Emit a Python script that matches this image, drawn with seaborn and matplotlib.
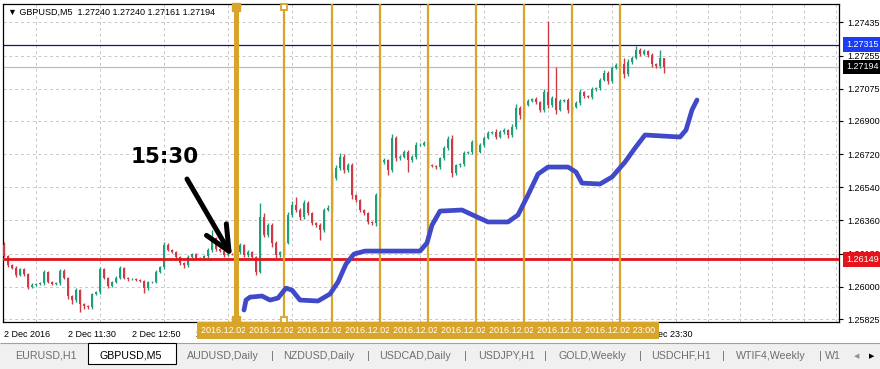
import matplotlib.pyplot as plt
import seaborn as sns
import numpy as np
import pandas as pd
from matplotlib.patches import Rectangle
from matplotlib.transforms import blended_transform_factory

sns.set_style('white')
plt.rcParams['font.family'] = ['Liberation Sans', 'DejaVu Sans']

# --- data ---
symbol = 'GBPUSD,M5'
last_bar = ['1.27240', '1.27240', '1.27161', '1.27194']   # O H L C
start_time = '10:10'        # first M5 bar on screen
first_open = 1.26227

closes = [1.26167, 1.26118, 1.26102, 1.26064, 1.26096, 1.26069, 1.25999, 1.26010, 1.26015, 1.26020,
          1.26080, 1.26026, 1.26015, 1.26020, 1.26086, 1.26048, 1.25950, 1.25928, 1.25982, 1.25906,
          1.25895, 1.25890, 1.25961, 1.25971, 1.26096, 1.26048, 1.26004, 1.26026, 1.26048, 1.26102,
          1.26048, 1.26042, 1.26043, 1.26037, 1.26031, 1.25993, 1.26026, 1.26027, 1.26080, 1.26107,
          1.26227, 1.26200, 1.26189, 1.26162, 1.26129, 1.26118, 1.26162, 1.26178, 1.26156, 1.26151,
          1.26167, 1.26200, 1.26265, 1.26205, 1.26194, 1.26172, 1.26178, 1.26177, 1.26189, 1.26227,
          1.26172, 1.26189, 1.26162, 1.26080, 1.26379, 1.26281, 1.26335, 1.26238, 1.26172, 1.26189,
          1.26238, 1.26390, 1.26444, 1.26417, 1.26379, 1.26455, 1.26400, 1.26346, 1.26335, 1.26308,
          1.26417, 1.26428, 1.26590, 1.26645, 1.26705, 1.26634, 1.26661, 1.26498, 1.26471, 1.26417,
          1.26400, 1.26352, 1.26346, 1.26498, 1.26677, 1.26688, 1.26634, 1.26808, 1.26699, 1.26705,
          1.26732, 1.26688, 1.26705, 1.26770, 1.26772, 1.26780, 1.26661, 1.26656, 1.26650, 1.26699,
          1.26753, 1.26802, 1.26618, 1.26661, 1.26666, 1.26726, 1.26732, 1.26786, 1.26732, 1.26770,
          1.26808, 1.26835, 1.26840, 1.26813, 1.26840, 1.26851, 1.26824, 1.26867, 1.26971, 1.26933,
          1.26987, 1.27009, 1.27019, 1.27003, 1.26960, 1.27057, 1.26987, 1.27025, 1.26960, 1.27009,
          1.27014, 1.26960, 1.26976, 1.26998, 1.27057, 1.27036, 1.27030, 1.27074, 1.27079, 1.27123,
          1.27161, 1.27117, 1.27188, 1.27204, 1.27210, 1.27155, 1.27220, 1.27242, 1.27286, 1.27264,
          1.27280, 1.27258, 1.27210, 1.27199, 1.27240, 1.27194]

# wick lengths above / below the body, in points (0.00001)
wick_up = [15, 8, 5, 10, 8, 6, 4, 10, 6, 8,
           10, 6, 5, 4, 8, 12, 6, 8, 10, 8,
           5, 4, 6, 8, 10, 6, 5, 6, 8, 12,
           8, 5, 3, 4, 6, 5, 8, 3, 10, 8,
           15, 10, 6, 5, 4, 6, 8, 6, 5, 4,
           6, 10, 45, 8, 6, 5, 4, 3, 10, 12,
           8, 10, 6, 5, 76, 20, 12, 10, 8, 6,
           10, 15, 20, 43, 12, 18, 10, 8, 6, 10,
           12, 15, 25, 18, 20, 15, 12, 10, 6, 8,
           5, 6, 5, 10, 15, 12, 8, 20, 10, 8,
           12, 10, 8, 15, 6, 10, 12, 5, 4, 8,
           10, 15, 20, 8, 5, 10, 6, 12, 10, 8,
           10, 12, 8, 15, 10, 12, 8, 15, 20, 10,
           12, 10, 8, 10, 6, 15, 386, 10, 168, 12,
           8, 10, 6, 10, 15, 8, 5, 10, 8, 12,
           15, 10, 12, 10, 8, 30, 15, 10, 20, 12,
           10, 8, 10, 6, 46, 0]
wick_dn = [6, 8, 5, 10, 6, 8, 12, 5, 8, 6,
           8, 5, 6, 4, 10, 6, 15, 20, 8, 43,
           15, 10, 8, 6, 10, 8, 12, 5, 6, 8,
           6, 8, 3, 5, 6, 27, 10, 3, 8, 6,
           10, 6, 8, 10, 12, 18, 8, 6, 10, 5,
           6, 8, 10, 8, 6, 12, 4, 3, 8, 10,
           12, 8, 10, 15, 5, 12, 10, 20, 15, 8,
           10, 8, 12, 10, 15, 10, 12, 8, 10, 54,
           10, 8, 15, 12, 10, 15, 10, 20, 12, 10,
           8, 10, 12, 15, 10, 8, 25, 12, 15, 10,
           8, 65, 10, 12, 6, 8, 15, 8, 10, 12,
           10, 8, 20, 10, 8, 12, 6, 10, 15, 8,
           10, 8, 6, 12, 8, 10, 15, 10, 12, 20,
           10, 8, 6, 10, 11, 12, 15, 10, 20, 8,
           6, 15, 10, 8, 12, 10, 6, 8, 10, 12,
           8, 15, 10, 6, 8, 20, 12, 10, 8, 10,
           6, 12, 15, 10, 10, 33]

time_labels = ['2 Dec 2016', '2 Dec 11:30', '2 Dec 12:50', '2 Dec 14:10', '2 Dec 15:30', '2 Dec 16:50',
               '2 Dec 18:10', '2 Dec 19:30', '2 Dec 20:50', '2 Dec 22:10', '2 Dec 23:30']
price_ticks = [1.27435, 1.27255, 1.27075, 1.26900, 1.26720, 1.26540, 1.26360, 1.26180, 1.26000, 1.25825]
vline_times = ['15:00', '16:00', '17:00', '18:00', '19:00', '20:00', '21:00', '22:00', '23:00']
blue_level = 1.27315
red_level = 1.26149
last_price = 1.27194

# hand drawn blue curve (bar index, price)
curve_idx = [60.0, 60.5, 61.5, 64.5, 66.5, 68.5, 70.5, 72.0, 74.0, 78.5,
             81.5, 83.5, 85.5, 87.5, 90.25, 104.0, 105.75, 107.0, 109.0, 114.5,
             117.75, 121.0, 126.0, 128.5, 131.0, 133.5, 136.0, 141.0, 143.0, 144.5,
             149.0, 152.0, 155.25, 157.75, 160.25, 169.0, 170.5, 172.0, 173.25]
curve_price = [1.25874, 1.25928, 1.25944, 1.25950, 1.25928, 1.25939, 1.25993, 1.25982, 1.25928, 1.25923,
               1.25961, 1.26026, 1.26124, 1.26178, 1.26194, 1.26194, 1.26238, 1.26335, 1.26411, 1.26417,
               1.26384, 1.26352, 1.26352, 1.26390, 1.26498, 1.26612, 1.26650, 1.26650, 1.26623, 1.26563,
               1.26558, 1.26596, 1.26677, 1.26753, 1.26824, 1.26813, 1.26851, 1.26960, 1.27014]

note_text = '15:30'
note_pos = (40.25, 1.26704)
arrow_from = (45.75, 1.26585)
arrow_to = (57.0, 1.26165)

tabs = ['EURUSD,H1', 'GBPUSD,M5', 'AUDUSD,Daily', 'NZDUSD,Daily', 'USDCAD,Daily',
        'USDJPY,H1', 'GOLD,Weekly', 'USDCHF,H1', 'WTIF4,Weekly', 'W1']

# --- build the bars ---
df = pd.DataFrame({'close': closes})
df['open'] = [first_open] + closes[:-1]
df['high'] = df[['open', 'close']].max(axis=1) + np.array(wick_up) * 1e-5
df['low'] = df[['open', 'close']].min(axis=1) - np.array(wick_dn) * 1e-5
bull = df['close'] >= df['open']
colors = np.where(bull, '#1F9E7E', '#CF3A44')

def bar_index(hhmm):
    h, m = map(int, hhmm.split(':'))
    h0, m0 = map(int, start_time.split(':'))
    return ((h * 60 + m) - (h0 * 60 + m0)) / 5

W, H = 880, 369
fig = plt.figure(figsize=(W / 100, H / 100), dpi=100)
ax = fig.add_axes([3 / W, 1 - 322 / H, 836 / W, 318 / H])
ax.set_axisbelow(True)

gold = '#D9A42A'
ax.vlines(df.index, df['low'], df['high'], colors=colors, lw=1.0, zorder=3)
body = np.maximum((df['close'] - df['open']).abs(), 1.5e-5)
ax.bar(df.index, body, bottom=df[['open', 'close']].min(axis=1), width=0.74,
       color=colors, linewidth=0, zorder=4)

ax.axhline(last_price, color='#BEBEBE', lw=0.9, zorder=2)
ax.axhline(blue_level, color='#14147C', lw=0.9, zorder=2)
ax.axhline(red_level, color='#E0141C', lw=2.0, zorder=5)

bx = blended_transform_factory(ax.transData, ax.transAxes)
for k, t in enumerate(vline_times):
    xi = bar_index(t)
    ax.axvline(xi, color=gold, lw=3.6 if k == 0 else 1.6, zorder=6)
    ax.text(xi, -0.026, f'2016.12.02 {t}', transform=bx, ha='center', va='center',
            fontsize=6.5, color='white', zorder=10 + k, clip_on=False,
            bbox=dict(boxstyle='square,pad=0.45', fc=gold, ec='none'))
x0, x1 = bar_index(vline_times[0]), bar_index(vline_times[1])
ax.plot([x0, x0], [0.99, 0.005], ls='none', marker='s', ms=6, color=gold, transform=bx,
        clip_on=False, zorder=7)
ax.plot([x1, x1], [0.99, 0.005], ls='none', marker='s', ms=4, mfc='white', mec=gold, mew=1.3,
        transform=bx, clip_on=False, zorder=7)

sns.lineplot(x=curve_idx, y=curve_price, ax=ax, color='#4049C8', lw=3.4, sort=False,
             estimator=None, solid_capstyle='round', solid_joinstyle='round', zorder=8)

ax.annotate('', xy=arrow_to, xytext=arrow_from, zorder=9,
            arrowprops=dict(arrowstyle='->,head_length=1.2,head_width=0.55', color='black',
                            lw=3.6, mutation_scale=15, shrinkA=0, shrinkB=0))
ax.text(*note_pos, note_text, ha='center', va='center', fontsize=15.5, fontweight='bold',
        family='DejaVu Sans', color='black')

ax.text(0.006, 0.975, '\u25bc ' + symbol + '  ' + ' '.join(last_bar), transform=ax.transAxes,
        ha='left', va='center', fontsize=6.5, color='black', zorder=10)

# axes
ax.set_xlim(-0.25, 208.75)
ax.set_ylim(1.25809, 1.27535)
ax.set_xticks(range(0, 161, 16))
ax.set_xticklabels(time_labels, ha='left')
ax.set_xticks(range(8, 209, 8), minor=True)
ax.yaxis.tick_right()
ax.set_yticks(price_ticks)
ax.set_yticklabels([f'{p:.5f}' for p in price_ticks])
ax.tick_params(axis='x', which='major', length=4, width=0.8, pad=2, labelsize=6.5, colors='black')
ax.tick_params(axis='x', which='minor', length=0)
ax.tick_params(axis='y', length=3, width=0.8, pad=3, labelsize=6.5, colors='black', right=True, left=False)
ax.grid(axis='y', which='major', color='#C8C8C8', ls=(0, (3, 3)), lw=0.7)
ax.grid(axis='x', which='minor', color='#C8C8C8', ls=(0, (3, 3)), lw=0.7)
for s in ax.spines.values():
    s.set_visible(True)
    s.set_color('black')
    s.set_linewidth(0.9)

ry = blended_transform_factory(ax.transAxes, ax.transData)
for level, fc in [(blue_level, '#1A3CF2'), (last_price, 'black'), (red_level, '#E3141C')]:
    ax.text(1.0085, level, f'{level:.5f}', transform=ry, ha='left', va='center', fontsize=6.5,
            color='white', clip_on=False, zorder=10,
            bbox=dict(boxstyle='square,pad=0.3', fc=fc, ec='none'))

# terminal tab bar
fig.add_artist(Rectangle((0, 0), 1, 26 / H, transform=fig.transFigure, fc='#F0F0F0', ec='none'))
fig.add_artist(Rectangle((0, 26 / H), 1, 0, transform=fig.transFigure, fc='none', ec='#A0A0A0', lw=0.8))
fig.add_artist(Rectangle((88 / W, 5 / H), 88 / W, 21 / H, transform=fig.transFigure,
                         fc='white', ec='black', lw=0.8))
tab_x = [46, 131, 223, 319, 415, 507, 592, 681, 771, 833]
for name, tx in zip(tabs, tab_x):
    fig.text(tx / W, 1 - 356 / H, name, ha='center', va='center', fontsize=7.7,
             color='black' if name == symbol else '#6E6E6E')
for sx in [272, 368, 465, 545, 640, 723, 820]:
    fig.text(sx / W, 1 - 356 / H, '|', ha='center', va='center', fontsize=8, color='#6E6E6E')
fig.text(857 / W, 1 - 356 / H, '\u25c0', ha='center', va='center', fontsize=5, color='#909090',
         family='DejaVu Sans')
fig.text(872 / W, 1 - 356 / H, '\u25b6', ha='center', va='center', fontsize=5, color='black',
         family='DejaVu Sans')

fig.savefig('out.png', dpi=100, facecolor='white')
